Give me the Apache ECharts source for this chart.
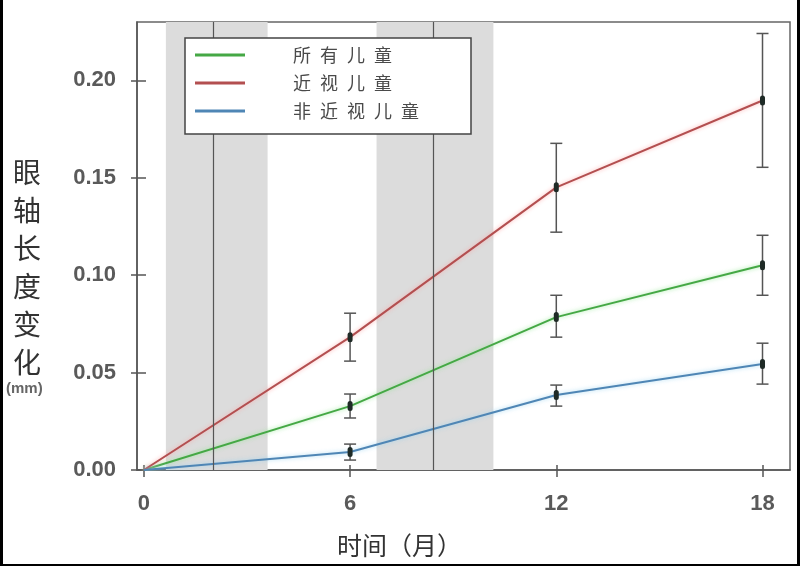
<!DOCTYPE html>
<html>
<head>
<meta charset="utf-8">
<script src="https://cdn.jsdelivr.net/npm/echarts@6/dist/echarts.min.js"></script>
<style>
html,body{margin:0;padding:0;background:#fff;}
#wrap{position:relative;width:800px;height:566px;}
#chart{width:800px;height:566px;}
#frame{position:absolute;left:0;top:0;width:800px;height:566px;box-sizing:border-box;border-left:3px solid #000;border-right:3px solid #000;border-bottom:2px solid #000;pointer-events:none;}
</style>
</head>
<body>
<div id="wrap"><div id="chart"></div><div id="frame"></div></div>
<script>
// ---- data ----
const months = [0, 6, 12, 18];
const seriesNames = ['所有儿童', '近视儿童', '非近视儿童'];
const legendLabels = ['所\u2002有\u2002儿\u2002童', '近\u2002视\u2002儿\u2002童', '非\u2002近\u2002视\u2002儿\u2002童'];
const allKids = [0, 0.0328, 0.0785, 0.1051];
const allLow = [null, 0.0267, 0.0682, 0.0897];
const allHigh = [null, 0.0390, 0.0897, 0.1205];
const myopic = [0, 0.0682, 0.1451, 0.1897];
const myoLow = [null, 0.0559, 0.1221, 0.1554];
const myoHigh = [null, 0.0805, 0.1677, 0.2241];
const nonMyopic = [0, 0.0092, 0.0385, 0.0544];
const nonLow = [null, 0.0051, 0.0328, 0.0441];
const nonHigh = [null, 0.0133, 0.0436, 0.0651];
const bands = [[0.64, 3.6], [6.77, 10.17]];
const vLines = [2.03, 8.43];
const xTicks = [0, 6, 12, 18];
const yTicks = [0, 0.05, 0.10, 0.15, 0.20];

// ---- build ----
const colors = ['#45a845', '#b34f50', '#4f86b5'];
const halos = ['rgba(140,230,140,0.8)', 'rgba(255,160,160,0.8)', 'rgba(150,210,240,0.8)'];
const means = [allKids, myopic, nonMyopic];
const lows = [allLow, myoLow, nonLow];
const highs = [allHigh, myoHigh, nonHigh];

const chart = echarts.init(document.getElementById('chart'), null, {renderer: 'canvas'});

const lineSeries = seriesNames.map((n, i) => ({
  name: n,
  type: 'line',
  z: 3,
  data: months.map((m, k) => [m, means[i][k]]),
  showSymbol: false,
  symbol: 'none',
  color: colors[i],
  lineStyle: {width: 2, color: colors[i], shadowColor: halos[i], shadowBlur: 4},
  emphasis: {disabled: true},
  silent: true
}));

const errData = [];
for (let i = 0; i < 3; i++) {
  for (let k = 0; k < months.length; k++) {
    if (lows[i][k] != null) errData.push([months[k], lows[i][k], highs[i][k], means[i][k]]);
  }
}

const errSeries = {
  type: 'custom',
  z: 5,
  silent: true,
  data: errData,
  renderItem: function (params, api) {
    const x = api.value(0);
    const top = api.coord([x, api.value(2)]);
    const bot = api.coord([x, api.value(1)]);
    const mid = api.coord([x, api.value(3)]);
    const cap = 6;
    const st = {stroke: '#555', lineWidth: 1.5};
    return {
      type: 'group',
      children: [
        {type: 'line', shape: {x1: top[0], y1: top[1], x2: bot[0], y2: bot[1]}, style: st},
        {type: 'line', shape: {x1: top[0] - cap, y1: top[1], x2: top[0] + cap, y2: top[1]}, style: st},
        {type: 'line', shape: {x1: bot[0] - cap, y1: bot[1], x2: bot[0] + cap, y2: bot[1]}, style: st},
        {type: 'rect', shape: {x: mid[0] - 2.5, y: mid[1] - 5, width: 5, height: 10, r: 2.5}, style: {fill: '#1e2a26'}}
      ]
    };
  }
};

const bandSeries = {
  name: 'bands',
  type: 'line',
  z: 1,
  data: [],
  silent: true,
  markArea: {
    silent: true,
    itemStyle: {color: '#dcdcdc'},
    data: bands.map(b => [{xAxis: b[0]}, {xAxis: b[1]}])
  },
  markLine: {
    silent: true,
    symbol: 'none',
    label: {show: false},
    lineStyle: {color: '#555', width: 1.2, type: 'solid'},
    data: vLines.map(v => ({xAxis: v}))
  }
};

const labelFont = {fontFamily: 'Liberation Sans', fontSize: 22, fontWeight: 'bold', color: '#5a5a5a'};

const option = {
  animation: false,
  backgroundColor: '#fff',
  grid: {left: 137, top: 22, right: 10, bottom: 96, show: true, borderColor: '#666', borderWidth: 1.5, backgroundColor: 'transparent'},
  legend: {
    data: seriesNames,
    left: 185, top: 38,
    orient: 'vertical',
    icon: 'rect',
    itemWidth: 50, itemHeight: 3,
    itemGap: 8,
    padding: [7, 52, 13, 10],
    backgroundColor: '#fff',
    borderColor: '#444', borderWidth: 1.5,
    selectedMode: false,
    formatter: function (name) { return legendLabels[seriesNames.indexOf(name)]; },
    textStyle: {fontFamily: 'Noto Sans CJK SC', fontSize: 18, color: '#4a4a4a', lineHeight: 20, padding: [0, 0, 0, 43]},
    z: 10
  },
  xAxis: [{
    type: 'value', min: -0.2, max: 18.8,
    axisLine: {show: true, onZero: false, lineStyle: {color: '#555', width: 1.5}},
    axisTick: {show: true, length: 7, customValues: xTicks, lineStyle: {color: '#555', width: 1.5}},
    axisLabel: Object.assign({customValues: xTicks, margin: 23}, labelFont),
    splitLine: {show: false}
  }, {
    type: 'value', min: -0.2, max: 18.8, position: 'bottom', offset: 0,
    axisLine: {show: false, onZero: false},
    axisTick: {show: true, inside: true, length: 5, customValues: xTicks, lineStyle: {color: '#555', width: 1.5}},
    axisLabel: {show: false},
    splitLine: {show: false}
  }],
  yAxis: [{
    type: 'value', min: 0, max: 0.23,
    axisLine: {show: true, onZero: false, lineStyle: {color: '#555', width: 1.5}},
    axisTick: {show: true, length: 6, customValues: yTicks, lineStyle: {color: '#555', width: 1.5}},
    axisLabel: Object.assign({customValues: yTicks, margin: 21, formatter: v => v.toFixed(2)}, labelFont),
    splitLine: {show: false}
  }, {
    type: 'value', min: 0, max: 0.23, position: 'left', offset: 0,
    axisLine: {show: false, onZero: false},
    axisTick: {show: true, inside: true, length: 9, customValues: yTicks, lineStyle: {color: '#555', width: 1.5}},
    axisLabel: {show: false},
    splitLine: {show: false}
  }],
  graphic: [
    {type: 'text', left: 13, top: 153, silent: true,
     style: {text: '眼\n轴\n长\n度\n变\n化', font: '28px "Noto Sans CJK SC"', lineHeight: 38, fill: '#333'}},
    {type: 'text', left: 6, top: 381, silent: true,
     style: {text: '(mm)', font: 'bold 15px "Liberation Sans"', fill: '#666'}},
    {type: 'text', left: 337, top: 533, silent: true,
     style: {text: '时间（月）', font: '25px "Noto Sans CJK SC"', fill: '#333'}}
  ],
  series: [bandSeries].concat(lineSeries).concat([errSeries])
};
chart.setOption(option);
</script>
</body>
</html>
